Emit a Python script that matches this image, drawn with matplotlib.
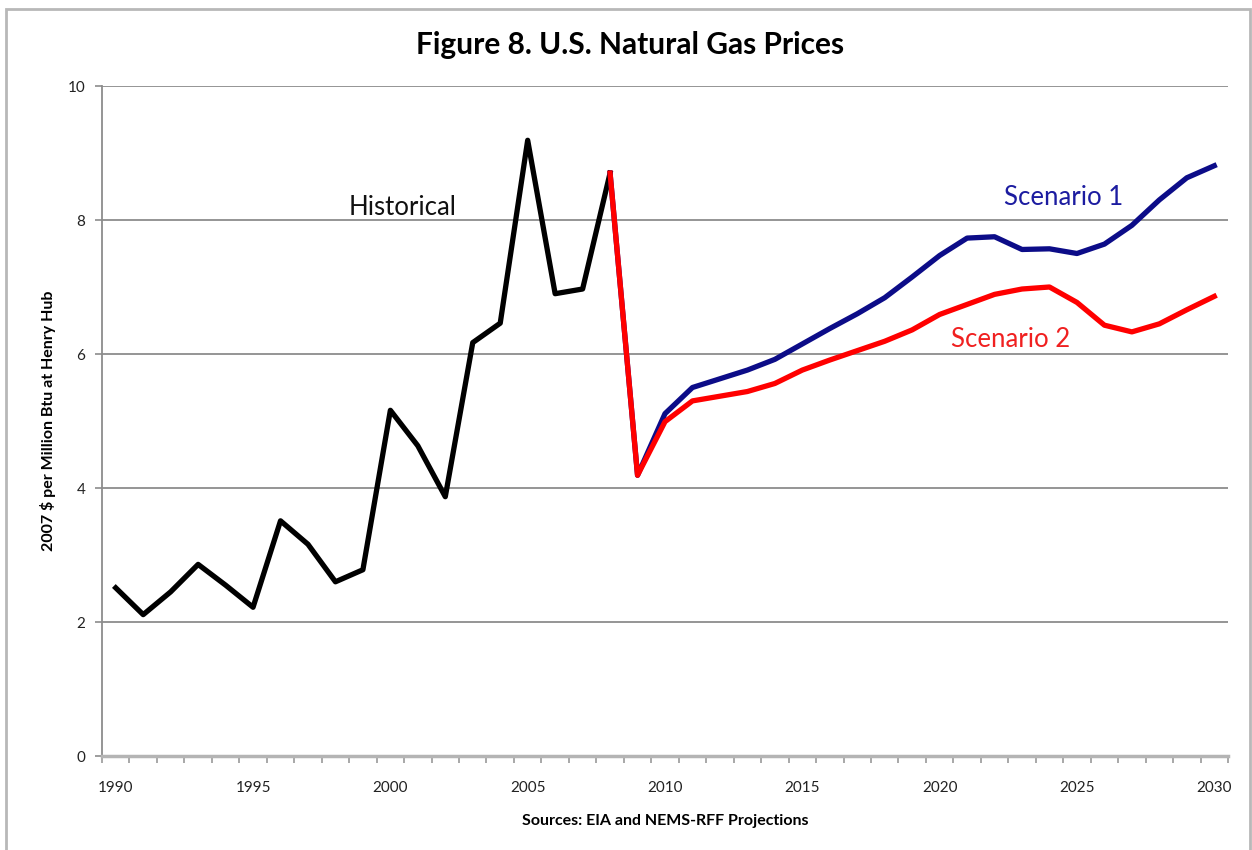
import matplotlib
matplotlib.use("Agg")
import matplotlib.pyplot as plt
from matplotlib.patches import Rectangle
import numpy as np

plt.rcParams['font.family'] = ['Lato', 'DejaVu Sans']

hist_years = list(range(1990, 2009))
hist_vals = [2.51, 2.11, 2.45, 2.86, 2.55, 2.22, 3.51, 3.16, 2.60, 2.78,
             5.16, 4.63, 3.87, 6.17, 6.46, 9.19, 6.90, 6.97, 8.70]

proj_years = list(range(2008, 2031))
scen1_vals = [8.70, 4.19, 5.11, 5.50, 5.63, 5.76, 5.92, 6.15, 6.38, 6.60, 6.84,
              7.15, 7.47, 7.73, 7.75, 7.56, 7.57, 7.50, 7.64, 7.92, 8.30, 8.63, 8.81]
scen2_vals = [8.70, 4.19, 4.99, 5.30, 5.37, 5.44, 5.56, 5.76, 5.91, 6.05, 6.19,
              6.36, 6.59, 6.74, 6.89, 6.97, 7.00, 6.77, 6.43, 6.33, 6.45, 6.66, 6.86]

xtick_years = [1990, 1995, 2000, 2005, 2010, 2015, 2020, 2025, 2030]
ytick_vals = [0, 2, 4, 6, 8, 10]

W, H = 1252, 850
fig = plt.figure(figsize=(W / 100, H / 100), dpi=100)

# figure border (bottom edge lies outside the image, as in the reference)
fig.patches.append(Rectangle((6 / W, -10 / H), (1250 - 6) / W, (841 + 10) / H,
                             transform=fig.transFigure, fill=False,
                             edgecolor='#b8b8b8', linewidth=2.0))

left, right, top, bottom = 102, 1228, 86, 756
ax = fig.add_axes([left / W, 1 - bottom / H, (right - left) / W, (bottom - top) / H])

ax.set_xlim(1989.5, 2030.5)
ax.set_ylim(0, 10)

for v in ytick_vals[1:]:
    ax.axhline(v, color='#8c8c8c', linewidth=1.3, zorder=1)

ax.plot(hist_years, hist_vals, color='black', linewidth=3.8, zorder=3)
ax.plot(proj_years, scen1_vals, color='#0c0c88', linewidth=3.8, zorder=4)
ax.plot(proj_years, scen2_vals, color='#ff0000', linewidth=3.8, zorder=5)

ax.text(2000.45, 8.19, 'Historical', fontsize=18.5, color='#111111',
        ha='center', va='center')
ax.text(2024.5, 8.34, 'Scenario 1', fontsize=18.5, color='#1c1ca0',
        ha='center', va='center')
ax.text(2022.6, 6.22, 'Scenario 2', fontsize=18.5, color='#f02020',
        ha='center', va='center')

for s in ['top', 'right']:
    ax.spines[s].set_visible(False)
ax.spines['left'].set_color('#8c8c8c')
ax.spines['left'].set_linewidth(1.3)
ax.spines['bottom'].set_color('#b4b4b4')
ax.spines['bottom'].set_linewidth(2.5)

ax.set_yticks(ytick_vals)
ax.set_yticklabels([str(v) for v in ytick_vals])
ax.tick_params(axis='y', length=5, width=1.2, color='#8c8c8c', labelsize=11,
               pad=7, labelcolor='#222222')

ax.set_xticks(xtick_years)
ax.set_xticklabels([str(v) for v in xtick_years])
ax.set_xticks(np.arange(1989.5, 2031, 1.0), minor=True)
ax.tick_params(axis='x', which='major', length=0, labelsize=11, pad=18,
               labelcolor='#222222')
ax.tick_params(axis='x', which='minor', length=5, width=1.2, color='#9a9a9a')

ax.set_ylabel('2007 $ per Million Btu at Henry Hub', fontsize=11.5,
              fontweight='bold', labelpad=8)
ax.set_xlabel('Sources: EIA and NEMS-RFF Projections', fontsize=11.5,
              fontweight='bold', labelpad=14)

fig.text(0.503, 1 - 45 / H, 'Figure 8. U.S. Natural Gas Prices', fontsize=21.5,
         fontweight='bold', ha='center', va='center')

fig.savefig('out.png', dpi=100)
